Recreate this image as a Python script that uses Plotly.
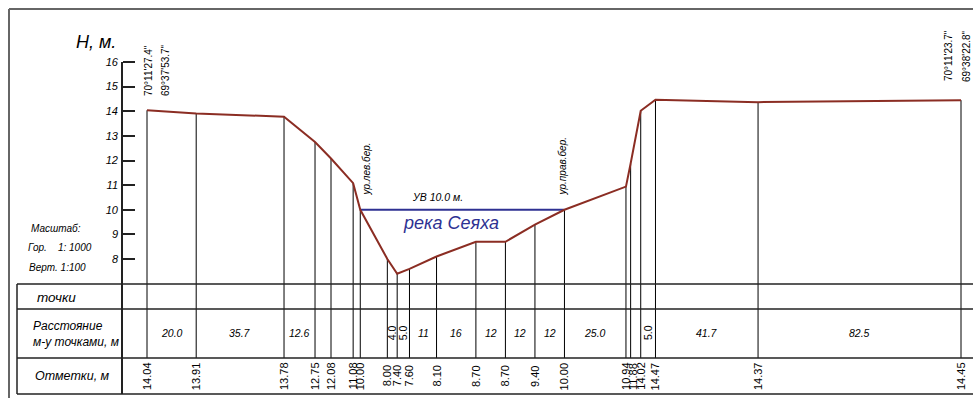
import plotly.graph_objects as go

# пикеты (м от первой точки) и отметки поверхности, м
stations = [0.0, 20.0, 55.7, 68.3, 74.8, 83.8, 86.7, 97.7, 101.7, 106.7, 117.7,
            133.7, 145.7, 157.7, 169.7, 194.7, 196.6, 200.7, 206.7, 248.4, 330.9]
elevations = [14.04, 13.91, 13.78, 12.75, 12.08, 11.08, 10.00, 8.00, 7.40, 7.60, 8.10,
              8.70, 8.70, 9.40, 10.00, 10.94, 11.88, 14.02, 14.47, 14.37, 14.45]
# подписи расстояний между точками ('' - без подписи)
dist_labels = ["20.0", "35.7", "12.6", "", "", "", "", "4.0", "5.0", "11", "16", "12",
               "12", "12", "25.0", "", "", "5.0", "41.7", "82.5"]
water_level = 10.0
y_ticks = [8, 9, 10, 11, 12, 13, 14, 15, 16]
coords_left = ["70°11'27.4\"", "69°37'53.7\""]
coords_right = ["70°11'23.7\"", "69°38'22.8\""]

W, H = 973, 398
FONT = "Liberation Sans, Arial, sans-serif"
RED = "#8B2D23"
BLUE = "#2E3192"
PX_PER_M, X0_PX = 2.46, 147
PX_PER_H, Y16_PX = 24.625, 62


def xm(px):
    return (px - X0_PX) / PX_PER_M


def hy(py):
    return 16 - (py - Y16_PX) / PX_PER_H


ROW_TOP, ROW_PTS, ROW_DIST, ROW_BOT = 284, 309, 358, 394

fig = go.Figure()

# вертикали от профиля вниз до строки отметок
vx, vy = [], []
for s, e in zip(stations, elevations):
    vx += [s, s, None]
    vy += [e, hy(ROW_DIST), None]
fig.add_trace(go.Scatter(x=vx, y=vy, mode="lines",
                         line=dict(color="black", width=1), hoverinfo="skip"))

# урез воды
wi = [i for i, e in enumerate(elevations) if e == water_level]
fig.add_trace(go.Scatter(x=[stations[wi[0]], stations[wi[-1]]], y=[water_level] * 2,
                         mode="lines", line=dict(color=BLUE, width=2)))

# профиль
fig.add_trace(go.Scatter(x=stations, y=elevations, mode="lines",
                         line=dict(color=RED, width=2)))

ann = []


def txt(text, px, py, size, italic=True, angle=0, xanchor="center", yanchor="middle",
        color="black", align="center"):
    ann.append(dict(text=text, x=xm(px), y=hy(py), xref="x", yref="y", showarrow=False,
                    textangle=angle, xanchor=xanchor, yanchor=yanchor, align=align,
                    font=dict(family=FONT, size=size, color=color,
                              style="italic" if italic else "normal")))


# отметки в нижней строке (раздвигаем слишком близкие подписи)
min_sep = 7 / PX_PER_M
prev = None
for s, e in zip(stations, elevations):
    lx = s if prev is None else max(s, prev + min_sep)
    prev = lx
    ann.append(dict(text=f"{e:.2f}", x=lx, y=hy(376), xref="x", yref="y", showarrow=False,
                    textangle=-90, font=dict(family=FONT, size=11, color="black")))

# расстояния между точками
for i, lab in enumerate(dist_labels):
    if not lab:
        continue
    mid = (stations[i] + stations[i + 1]) / 2
    narrow = (stations[i + 1] - stations[i]) * PX_PER_M < 20
    ann.append(dict(text=lab, x=mid, y=hy(333), xref="x", yref="y", showarrow=False,
                    textangle=-90 if narrow else 0,
                    font=dict(family=FONT, size=10.5, color="black",
                              style="normal" if narrow else "italic")))

# координаты концов створа
txt(coords_left[0], 148, 71, 10, italic=False, angle=-90)
txt(coords_left[1], 165, 70, 10, italic=False, angle=-90)
txt(coords_right[0], 948, 56, 10, italic=False, angle=-90)
txt(coords_right[1], 966, 56, 10, italic=False, angle=-90)

# подписи берегов и реки
txt("ур.лев.бер.", 366, 198, 10, angle=-90, yanchor="bottom")
txt("ур.прав.бер.", 562, 198, 10, angle=-90, yanchor="bottom")
txt("УВ 10.0 м.", 437, 197, 10.5)
txt("река Сеяха", 451, 223, 18, color=BLUE)

# заголовок оси и масштаб
txt("H, м.", 96, 42, 18)
txt("Масштаб:", 29, 228, 10, xanchor="left")
txt("Гор.\u00a0\u00a0\u00a0 1: 1000", 26, 247, 10, xanchor="left")
txt("Верт. 1:100", 27, 267, 10, xanchor="left")

# шапка таблицы
txt("точки", 35, 297, 13.5, xanchor="left")
txt("Расстояние<br>м-у точками, м", 31, 334, 12, xanchor="left", align="left")
txt("Отметки, м", 33, 376, 12.5, xanchor="left")


def pline(x0, y0, x1, y1, color="#222", width=1.5):
    return dict(type="line", xref="paper", yref="paper",
                x0=x0 / W, x1=x1 / W, y0=1 - y0 / H, y1=1 - y1 / H,
                line=dict(color=color, width=width))


shapes = [pline(17, r, W, r) for r in (ROW_TOP, ROW_PTS, ROW_DIST, ROW_BOT)]
shapes += [pline(17, ROW_TOP, 17, ROW_BOT), pline(122, Y16_PX, 122, ROW_BOT, width=2)]
shapes += [pline(9, 9, 9, H, color="#666", width=2),
           pline(9, 9, W, 9, color="#666", width=2)]

fig.update_layout(
    width=W, height=H, margin=dict(l=0, r=0, t=0, b=0),
    paper_bgcolor="white", plot_bgcolor="white", showlegend=False,
    annotations=ann, shapes=shapes,
    xaxis=dict(range=[xm(0), xm(W)], visible=False),
    yaxis=dict(range=[hy(H), hy(0)], anchor="free", position=122 / W,
               tickvals=y_ticks, ticks="inside", ticklen=12, tickwidth=1.5,
               tickcolor="#222", showgrid=False, zeroline=False, showline=False,
               ticklabelstandoff=4,
               tickfont=dict(family=FONT, size=11, color="black", style="italic")),
)

# рисунок во всё окно, без отступов страницы и без панели инструментов
fig.write_html("out.html", config={"displayModeBar": False},
               post_script="document.body.style.margin='0';"
                           "document.body.style.overflow='hidden';")
